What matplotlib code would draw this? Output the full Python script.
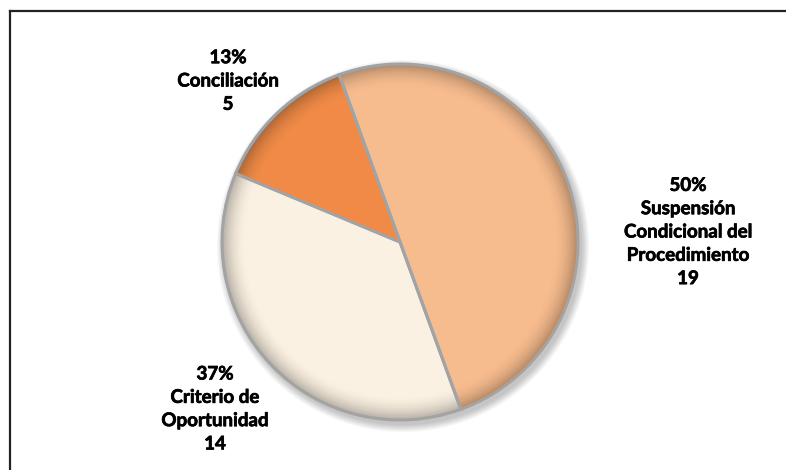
import numpy as np
import matplotlib.pyplot as plt
import matplotlib.patheffects as pe
from matplotlib.patches import Circle

# --- Data ---
labels = ['Conciliación', 'Criterio de\nOportunidad', 'Suspensión\nCondicional del\nProcedimiento']
values = [5, 14, 19]
colors = ['#F08A46', '#FBF1E2', '#F7BC8E']

# label anchor points (pixels, y up)
label_pos = [(228, 389), (215, 61), (688, 238)]

W, H = 786, 470
cx, cy, R = 400, 228, 178

fig = plt.figure(figsize=(W / 100, H / 100), dpi=100)
ax = fig.add_axes([0, 0, 1, 1])

# soft drop shadow
for i in range(10):
    ax.add_patch(Circle((cx + 3, cy - 4), R + 1 + i * 0.8, color='black',
                        alpha=0.025, zorder=1, lw=0))

wedges, _ = ax.pie(values, colors=colors, startangle=110, counterclock=True,
                   center=(cx, cy), radius=R,
                   wedgeprops=dict(linewidth=0))
for w in wedges:
    w.set_zorder(2)

# darkened rim to give the bevel look
yy, xx = np.mgrid[cy - R:cy + R:400j, cx - R:cx + R:400j]
r = np.hypot(xx - cx, yy - cy) / R
shade = np.zeros(r.shape + (4,))
shade[..., 3] = np.clip((r - 0.86) / 0.14, 0, 1) ** 2 * 0.28
im = ax.imshow(shade, extent=(cx - R, cx + R, cy - R, cy + R), origin='lower',
               zorder=3, interpolation='bilinear')
im.set_clip_path(Circle((cx, cy), R, transform=ax.transData))

# slice outlines on top of the shading
ax.pie(values, colors=['none'] * 3, startangle=110, counterclock=True,
       center=(cx, cy), radius=R,
       wedgeprops=dict(edgecolor='#A3A3A3', linewidth=2.2, zorder=4, fill=False))

ax.set_xlim(0, W)
ax.set_ylim(0, H)
ax.set_aspect('equal')
ax.axis('off')

total = sum(values)
for lab, v, (x, y) in zip(labels, values, label_pos):
    pct = round(100 * v / total)
    ax.text(x, y, f'{pct}%\n{lab}\n{v}', ha='center', va='center',
            fontsize=13.5, fontweight='bold', family='Lato',
            linespacing=1.45, color='black', zorder=5,
            path_effects=[pe.withStroke(linewidth=0.5, foreground='black')])

# frame lines along top and left
ax.plot([10, W], [H - 11, H - 11], color='#222222', lw=1.6, zorder=6)
ax.plot([10, 10], [H - 11, 0], color='#222222', lw=1.6, zorder=6)

fig.savefig('out.png', dpi=100)
